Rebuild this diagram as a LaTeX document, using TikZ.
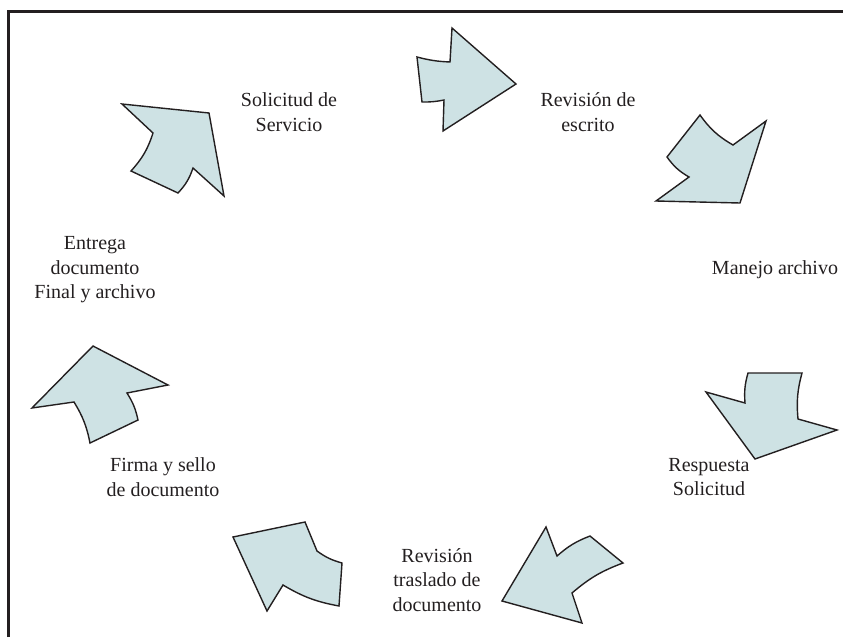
\documentclass[tikz,border=0pt]{standalone}
\usepackage{fontspec}
\setmainfont{Liberation Serif}
\usepackage{tikz}

\definecolor{relleno}{RGB}{206,226,228}
\definecolor{borde}{RGB}{35,31,32}

\begin{document}
\begin{tikzpicture}[x=1pt, y=-1pt,
    flecha/.style={fill=relleno, draw=borde, line width=1.4pt, line join=miter},
    paso/.style={align=center, text=borde, font=\fontsize{20}{24.5}\selectfont}]

    \useasboundingbox (0,0) rectangle (843,637);

    % marco
    \draw[borde, line width=2.4pt] (8.5,637) -- (8.5,11.5) -- (843,11.5);

    % pasos
    \node[paso] (servicio) at (289,112) {Solicitud de\\Servicio};
    \node[paso] (escrito) at (588,112) {Revisión de\\escrito};
    \node[paso] (manejo) at (775,270) {Manejo archivo};
    \node[paso] (respuesta) at (709,477) {Respuesta\\Solicitud};
    \node[paso] (traslado) at (437,580) {Revisión\\traslado de\\documento};
    \node[paso] (firma) at (163,477) {Firma y sello\\de documento};
    \node[paso] (entrega) at (95,270) {Entrega\\documento\\Final y archivo};

    % flechas
    \draw[flecha] (417,57) to[bend right=6] (450,62) -- (452,28) -- (516,84)
        -- (443,131) -- (444,100) to[bend left=6] (422,102) -- cycle;
    \draw[flecha] (700,115) to[bend right=12] (733,145) -- (766,121) -- (740,203)
        -- (656,201) -- (689,177) to[bend left=12] (667,157) -- cycle;
    \draw[flecha] (748,373) -- (802,373) to[bend right=10] (798,419) -- (837,430)
        -- (755,459) -- (706,392) -- (745,403) to[bend left=10] (748,373) -- cycle;
    \draw[flecha] (546,527) -- (557,556) to[bend left=10] (590,536) -- (623,563)
        to[bend right=10] (572,593) -- (582,623) -- (502,601) -- cycle;
    \draw[flecha] (233,537) -- (267,611) -- (283,585) to[bend right=10] (339,606)
        -- (342,563) to[bend left=10] (317,551) -- (305,522) -- cycle;
    \draw[flecha] (93,346) -- (168,385) -- (127,393) to[bend left=10] (138,420)
        -- (90,443) to[bend right=10] (74,402) -- (32,408) -- cycle;
    \draw[flecha] (122,104) -- (209,113) -- (224,196) -- (193,168) to[bend left=12] (178,193)
        -- (131,171) to[bend right=12] (153,133) -- cycle;

\end{tikzpicture}
\end{document}
